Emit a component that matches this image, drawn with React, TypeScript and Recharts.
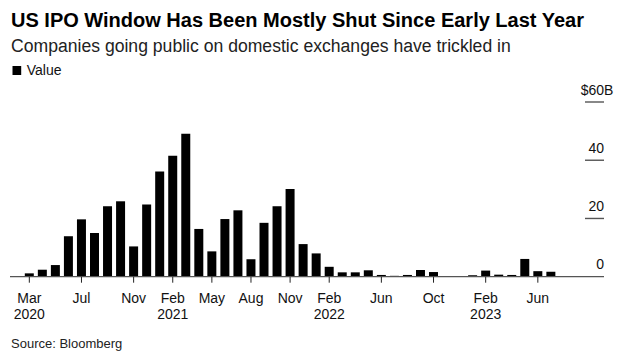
import React from "react";
import { BarChart, Bar, XAxis, YAxis } from "recharts";

const categories = [
  "2020-03", "2020-04", "2020-05", "2020-06", "2020-07", "2020-08", "2020-09", "2020-10", "2020-11", "2020-12",
  "2021-01", "2021-02", "2021-03", "2021-04", "2021-05", "2021-06", "2021-07", "2021-08", "2021-09", "2021-10", "2021-11", "2021-12",
  "2022-01", "2022-02", "2022-03", "2022-04", "2022-05", "2022-06", "2022-07", "2022-08", "2022-09", "2022-10", "2022-11", "2022-12",
  "2023-01", "2023-02", "2023-03", "2023-04", "2023-05", "2023-06", "2023-07",
];

const values = [
  1.15, 2.4, 4.0, 13.9, 19.7, 15.0, 24.2, 25.9, 10.4, 24.8,
  36.1, 41.5, 49.1, 16.4, 8.7, 19.8, 22.8, 6.0, 18.5, 24.2, 30.1, 11.2,
  8.0, 3.4, 1.5, 1.5, 2.2, 0.6, 0.3, 0.6, 2.3, 1.6, 0.2, 0.2,
  0.5, 2.1, 0.7, 0.6, 6.1, 1.9, 1.7,
];

const tickMonths = ["2020-03", "2020-07", "2020-11", "2021-02", "2021-05", "2021-08", "2021-11", "2022-02", "2022-06", "2022-10", "2023-02", "2023-06"];
const tickMonthLabels = ["Mar", "Jul", "Nov", "Feb", "May", "Aug", "Nov", "Feb", "Jun", "Oct", "Feb", "Jun"];
const tickYearLabels = ["2020", "", "", "2021", "", "", "", "2022", "", "", "2023", ""];

const yTicks = [0, 20, 40, 60];

const title = "US IPO Window Has Been Mostly Shut Since Early Last Year";
const subtitle = "Companies going public on domestic exchanges have trickled in";
const legendLabel = "Value";
const source = "Source: Bloomberg";

const data = categories.map((c, i) => ({ month: c, value: values[i] }));

const FONT = "'Liberation Sans', Arial, Helvetica, sans-serif";

const XTick = (props: any) => {
  const { x, y, payload } = props;
  const idx = tickMonths.indexOf(payload.value);
  if (idx < 0) return null;
  return (
    <g>
      <text x={x} y={y} dy={18.2} textAnchor="middle" fontFamily={FONT} fontSize={14} fill="#111">
        {tickMonthLabels[idx]}
      </text>
      {tickYearLabels[idx] ? (
        <text x={x} y={y} dy={34.5} textAnchor="middle" fontFamily={FONT} fontSize={14} fill="#111">
          {tickYearLabels[idx]}
        </text>
      ) : null}
    </g>
  );
};

const YTick = (props: any) => {
  const { x, y, payload } = props;
  const v = payload.value;
  const isTop = v === yTicks[yTicks.length - 1];
  return (
    <g>
      {v !== 0 ? <line x1={x - 19} x2={x} y1={y} y2={y} stroke="#555" strokeWidth={1.4} /> : null}
      <text x={x} y={y - 7.5} textAnchor="end" fontFamily={FONT} fontSize={14} fill="#111">
        {isTop ? "$" + v : String(v)}
      </text>
      {isTop ? (
        <text x={x} y={y - 7.5} textAnchor="start" fontFamily={FONT} fontSize={14} fill="#111">
          B
        </text>
      ) : null}
    </g>
  );
};

export default function App() {
  return (
    <div style={{ position: "fixed", left: 0, top: 0, width: 629, height: 364, background: "#fff" }}>
      <div style={{ position: "absolute", left: 0, top: 0 }}>
        <BarChart
          width={629}
          height={364}
          data={data}
          margin={{ top: 102, right: 0, bottom: 57.3, left: 10 }}
          barSize={9}
        >
          <XAxis
            dataKey="month"
            ticks={tickMonths}
            interval={0}
            tick={<XTick />}
            tickSize={6}
            tickLine={{ stroke: "#222", strokeWidth: 1 }}
            axisLine={{ stroke: "#555", strokeWidth: 1.2 }}
            height={30}
            padding={{ left: 12.8, right: 46.6 }}
          />
          <YAxis
            orientation="right"
            domain={[0, 60]}
            ticks={yTicks}
            width={25}
            axisLine={false}
            tickLine={false}
            tickSize={0}
            tickMargin={0}
            tick={<YTick />}
            interval={0}
          />
          <Bar dataKey="value" fill="#000" isAnimationActive={false} />
        </BarChart>
      </div>
      <svg
        width={629}
        height={364}
        style={{ position: "absolute", left: 0, top: 0, pointerEvents: "none" }}
      >
        <text x={11} y={26.7} fontFamily={FONT} fontSize={20} fontWeight="bold" fill="#000">
          {title}
        </text>
        <text x={11} y={52.3} fontFamily={FONT} fontSize={17.6} fill="#222">
          {subtitle}
        </text>
        <rect x={12.5} y={66} width={8.7} height={9} fill="#000" />
        <text x={26.7} y={75} fontFamily={FONT} fontSize={14} fill="#111">
          {legendLabel}
        </text>
        <text x={11} y={348.3} fontFamily={FONT} fontSize={13} fill="#222">
          {source}
        </text>
      </svg>
    </div>
  );
}
